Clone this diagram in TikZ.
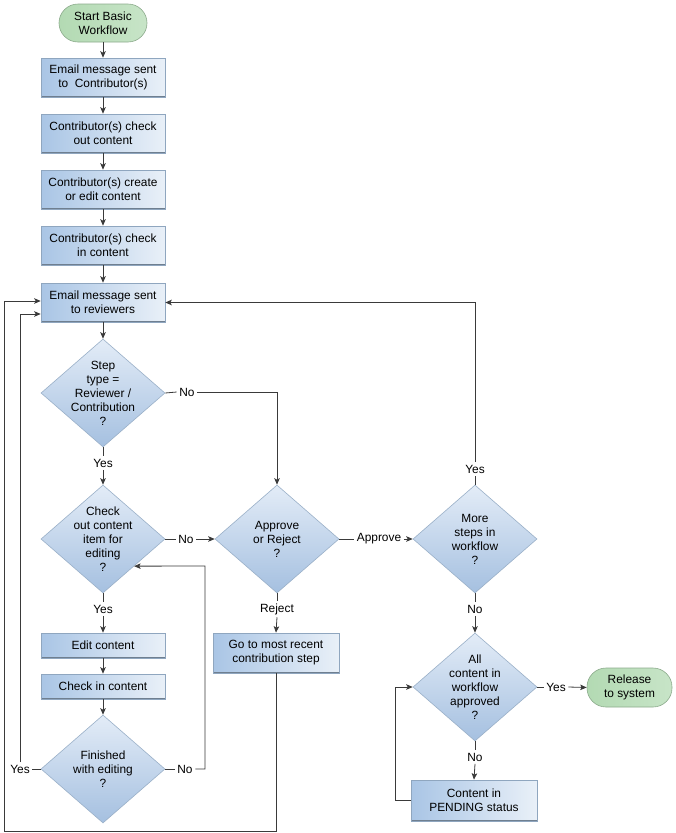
\documentclass[tikz,border=0pt]{standalone}
\usepackage{fontspec}
\setmainfont{Liberation Sans}
\usetikzlibrary{shapes.geometric,arrows.meta,calc}
\definecolor{boxL}{HTML}{A9C5E5}
\definecolor{boxM}{HTML}{BCD2EB}
\definecolor{boxR}{HTML}{E9F0F8}
\definecolor{boxE}{HTML}{8FA6BF}
\definecolor{boxS}{HTML}{6F7F90}
\definecolor{diaT}{HTML}{E3ECF7}
\definecolor{diaB}{HTML}{A5C0E0}
\definecolor{diaE}{HTML}{9AB0C8}
\definecolor{termD}{HTML}{B3DAB3}
\definecolor{termL}{HTML}{E6F4E6}
\definecolor{termE}{HTML}{8CAB8C}
\definecolor{linec}{HTML}{3A3A3A}
\tikzset{
  txt/.style={font=\fontsize{11.9}{14}\selectfont, align=center},
  stepbox/.style={txt, rectangle, draw=boxE, line width=0.6pt,
    left color=boxL, middle color=boxM, right color=boxR,
    minimum width=124pt, minimum height=39pt, inner sep=1pt,
    path picture={\draw[boxS, line width=1.6pt] (path picture bounding box.south west) -- (path picture bounding box.south east);}},
  dia/.style={diamond, draw=diaE, line width=0.6pt, top color=diaT, bottom color=diaB,
    minimum width=124pt, minimum height=108pt, inner sep=0pt},
  dtext/.style={txt, inner sep=0pt},
  term/.style={txt, rectangle, rounded corners=19pt, draw=termE, line width=0.6pt,
    left color=termD, middle color=termL, right color=termD!60!termL,
    minimum width=88pt, minimum height=38pt, inner sep=1pt},
  lab/.style={txt, inner sep=2.5pt},
  ln/.style={draw=linec, line width=0.8pt},
  arr/.style={ln, -{Stealth[length=6.5pt,width=5.5pt,inset=1.5pt]}},
}
\begin{document}
\begin{tikzpicture}[x=1pt,y=-1pt]
\useasboundingbox (0,0) rectangle (675,833);
\fill[white] (0,0) rectangle (675,833);

% nodes
\node[term] (start) at (103,23) {Start Basic\\Workflow};
\node[stepbox] (b1) at (103,77.5) {Email message sent\\to\ \ Contributor(s)};
\node[stepbox] (b2) at (103,133.5) {Contributor(s) check\\out content};
\node[stepbox] (b3) at (103,189.5) {Contributor(s) create\\or edit content};
\node[stepbox] (b4) at (103,245.5) {Contributor(s) check\\in content};
\node[stepbox] (b5) at (103,302.5) {Email message sent\\to reviewers};

\node[dia] (d1) at (103,393) {};
\node[dtext] (d1t) at (d1) {Step\\type =\\Reviewer /\\Contribution\\?};
\node[dia] (d2) at (103,539) {};
\node[dtext] (d2t) at (d2) {Check\\out content\\item for\\editing\\?};
\node[dia] (d3) at (277,539) {};
\node[dtext] (d3t) at (d3) {Approve\\or Reject\\?};
\node[dia] (d4) at (475,539) {};
\node[dtext] (d4t) at (d4) {More\\steps in\\workflow\\?};
\node[dia] (d5) at (475,687) {};
\node[dtext] (d5t) at (d5) {All\\content in\\workflow\\approved\\?};
\node[dia] (d6) at (103,769) {};
\node[dtext] (d6t) at (d6) {Finished\\with editing\\?};

\node[stepbox, minimum height=25pt] (e1) at (103,645.5) {Edit content};
\node[stepbox, minimum height=25pt] (e2) at (103,686.5) {Check in content};
\node[stepbox, minimum width=126pt, minimum height=40pt] (go) at (276,653) {Go to most recent\\contribution step};
\node[stepbox, minimum width=126pt, minimum height=41pt] (pend) at (474,800.5) {Content in\\PENDING status};
\node[term, minimum width=85pt, minimum height=39pt] (rel) at (629.5,687.5) {Release\\to system};

% labels
\node[lab] (l1No) at (187,392) {No};
\node[lab] (l1Yes) at (103,463) {Yes};
\node[lab] (l2No) at (186,539) {No};
\node[lab] (l2Yes) at (103,609) {Yes};
\node[lab] (l6Yes) at (20,769) {Yes};
\node[lab] (l6No) at (185,769) {No};
\node[lab] (lA) at (379,539) {Approve};
\node[lab] (lR) at (277,609) {Reject};
\node[lab] (l4Yes) at (475,469) {Yes};
\node[lab] (l4No) at (475,609) {No};
\node[lab] (l5Yes) at (556,687) {Yes};
\node[lab] (l5No) at (475,757) {No};

% coordinates for bends
\coordinate (k1) at (205,566);
\coordinate (k2) at (4,831);
\coordinate (k3) at (395,800.5);

% straight chain
\draw[arr] (start) -- (b1);
\draw[arr] (b1) -- (b2);
\draw[arr] (b2) -- (b3);
\draw[arr] (b3) -- (b4);
\draw[arr] (b4) -- (b5);
\draw[arr] (b5) -- (d1);

% decision 1
\draw[ln] (d1.east) -- (l1No.west);
\draw[arr] (l1No.east) -| (d3.north);
\draw[ln] (d1.south) -- (l1Yes.north);
\draw[arr] (l1Yes.south) -- (d2.north);

% decision 2
\draw[ln] (d2.east) -- (l2No.west);
\draw[arr] (l2No.east) -- (d3.west);
\draw[ln] (d2.south) -- (l2Yes.north);
\draw[arr] (l2Yes.south) -- (e1.north);
\draw[arr] (e1) -- (e2);
\draw[arr] (e2.south) -- (d6.north);

% decision 6
\draw[ln] (d6.west) -- (l6Yes.east);
\draw[arr] (l6Yes.north) |- ([yshift=-11.5pt]b5.west);
\draw[ln] (d6.east) -- (l6No.west);
\draw[arr] (l6No.east) -| (k1) -- (d2.south east);

% decision 3
\draw[ln] (d3.east) -- (lA.west);
\draw[arr] (lA.east) -- (d4.west);
\draw[ln] (d3.south) -- (lR.north);
\draw[arr] (lR.south) -- (go.north);
\draw[arr] (go.south) |- (k2) |- ([yshift=1.5pt]b5.west);

% decision 4
\draw[ln] (d4.north) -- (l4Yes.south);
\draw[arr] (l4Yes.north) |- (b5.east);
\draw[ln] (d4.south) -- (l4No.north);
\draw[arr] (l4No.south) -- (d5.north);

% decision 5
\draw[ln] (d5.east) -- (l5Yes.west);
\draw[arr] (l5Yes.east) -- (rel.west);
\draw[ln] (d5.south) -- (l5No.north);
\draw[arr] (l5No.south) -- (pend.north);
\draw[arr] (pend.west) -- (k3) |- (d5.west);
\end{tikzpicture}
\end{document}
